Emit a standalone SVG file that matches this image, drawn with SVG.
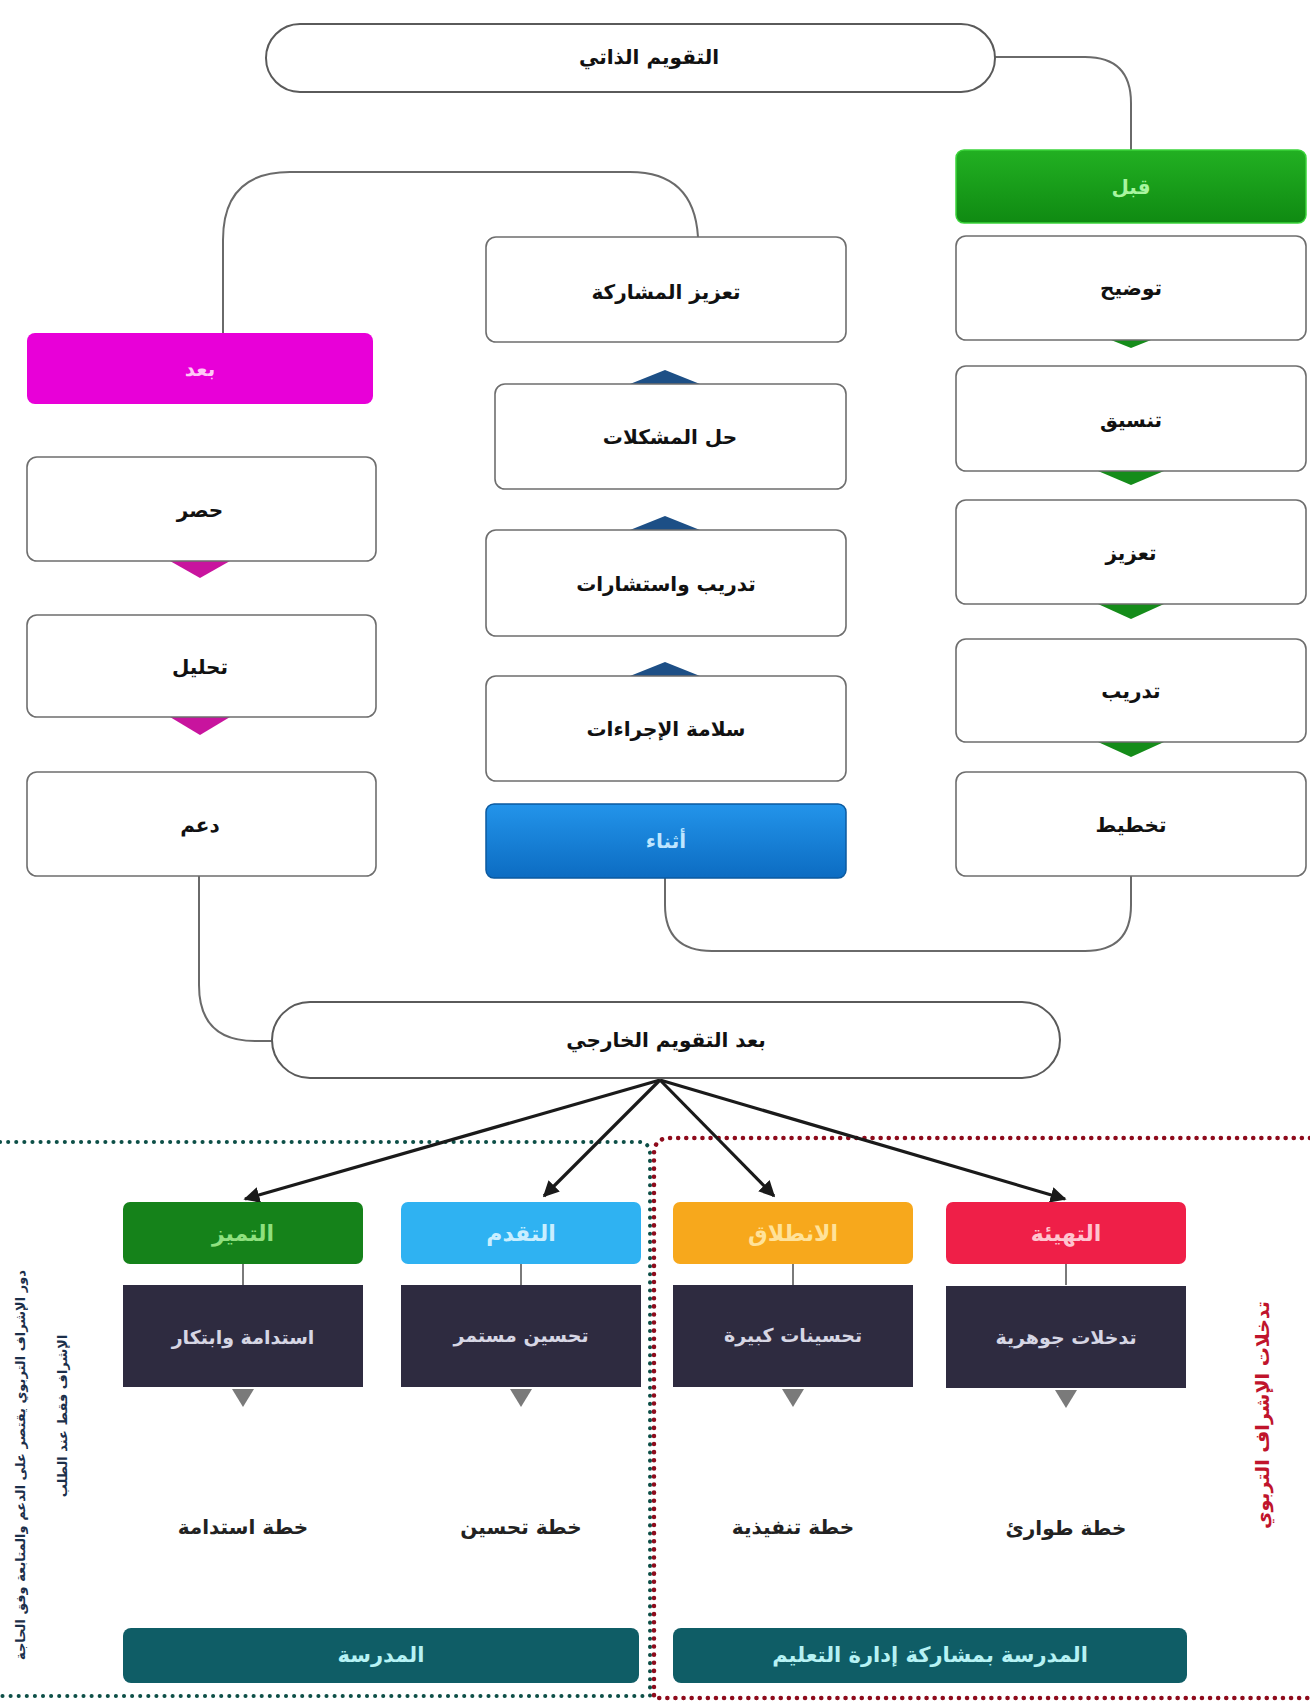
<svg xmlns="http://www.w3.org/2000/svg" width="1310" height="1704" viewBox="0 0 1310 1704">
<defs>
<style>
text{font-family:"DejaVu Sans","Noto Sans",sans-serif;font-weight:bold;text-anchor:middle;dominant-baseline:central}
.box{fill:#fff;stroke:#6e6e6e;stroke-width:1.6}
.pill{fill:#fff;stroke:#5a5a5a;stroke-width:2}
.bt{font-size:20px;fill:#111}
.conn{fill:none;stroke:#6a6a6a;stroke-width:2}
.arr{fill:none;stroke:#1a1a1a;stroke-width:3.2}
.dark{fill:#2e2b40}
.dt{font-size:19px;fill:#d6d6e4}
.ht{font-size:22px}
.plan{font-size:20px;fill:#222}
.bar{fill:#0f5d66}
.bartx{font-size:21px;fill:#b6f2f4}
.gl{stroke:#7a7a7a;stroke-width:2}
.gt{fill:#7a7a7a}
</style>
<linearGradient id="gGreen" x1="0" y1="0" x2="0" y2="1"><stop offset="0" stop-color="#22b022"/><stop offset="1" stop-color="#0f8a12"/></linearGradient>
<linearGradient id="gBlue" x1="0" y1="0" x2="0" y2="1"><stop offset="0" stop-color="#2394ea"/><stop offset="1" stop-color="#0c6cc2"/></linearGradient>
<linearGradient id="gDark" x1="0" y1="0" x2="1" y2="0"><stop offset="0" stop-color="#2a2738"/><stop offset="0.5" stop-color="#35324a"/><stop offset="1" stop-color="#2a2738"/></linearGradient>
<marker id="ah" viewBox="0 0 10 10" refX="9" refY="5" markerWidth="5" markerHeight="5" orient="auto" markerUnits="strokeWidth"><path d="M0,0 L10,5 L0,10 z" fill="#1a1a1a"/></marker>
</defs>
<rect width="1310" height="1704" fill="#fff"/>

<!-- dotted frames -->
<g id="frames" fill="none" stroke-linecap="round">
<path d="M0 1142 H638 Q650 1142 650 1154 V1696 H0" stroke="#0d4f47" stroke-width="4" stroke-dasharray="0.1 8"/>
<path d="M1310 1138 H670 Q654 1138 654 1154 V1698 H1310" stroke="#8e0b1c" stroke-width="4.5" stroke-dasharray="0.1 8"/>
</g>

<g id="connectors">
<path class="conn" d="M995 57 H1085 Q1131 57 1131 103 V150"/>
<path class="conn" d="M698 237 Q694 172 630 172 H290 Q223 172 223 240 V333"/>
<path class="conn" d="M1131 876 V905 Q1131 951 1085 951 H712 Q665 951 665 905 V878"/>
<path class="conn" d="M199 876 V985 Q199 1041 255 1041 H274"/>
<path class="arr" marker-end="url(#ah)" d="M660 1080 L245 1199"/>
<path class="arr" marker-end="url(#ah)" d="M660 1080 L544 1196"/>
<path class="arr" marker-end="url(#ah)" d="M660 1080 L774 1196"/>
<path class="arr" marker-end="url(#ah)" d="M660 1080 L1065 1199"/>
<g class="gl">
<line x1="243" y1="1264" x2="243" y2="1285"/>
<line x1="521" y1="1264" x2="521" y2="1285"/>
<line x1="793" y1="1264" x2="793" y2="1285"/>
<line x1="1066" y1="1264" x2="1066" y2="1285"/>
</g>
<g class="gt">
<polygon points="232,1389 254,1389 243,1407"/>
<polygon points="510,1389 532,1389 521,1407"/>
<polygon points="782,1389 804,1389 793,1407"/>
<polygon points="1055,1390 1077,1390 1066,1408"/>
</g>
</g>

<g id="self-eval"><rect class="pill" x="266" y="24" width="729" height="68" rx="34"/><text class="bt" x="649" y="57" font-size="22">التقويم الذاتي</text></g>

<!-- right column -->
<g id="before-head"><rect x="956" y="150" width="350" height="73" rx="8" fill="url(#gGreen)" stroke="#3bd43b" stroke-width="1.5"/><text x="1131" y="187" font-size="20" fill="#a8f5a0">قبل</text></g>
<g id="tri-green" fill="#158c1a">
<polygon points="1111,340 1151,340 1131,348"/>
<polygon points="1098,471 1164,471 1131,485"/>
<polygon points="1098,604 1164,604 1131,619"/>
<polygon points="1098,742 1164,742 1131,757"/>
</g>
<g id="b-clarify"><rect class="box" x="956" y="236" width="350" height="104" rx="10"/><text class="bt" x="1131" y="288">توضيح</text></g>
<g id="b-coord"><rect class="box" x="956" y="366" width="350" height="105" rx="10"/><text class="bt" x="1131" y="420">تنسيق</text></g>
<g id="b-enhance"><rect class="box" x="956" y="500" width="350" height="104" rx="10"/><text class="bt" x="1131" y="553">تعزيز</text></g>
<g id="b-train"><rect class="box" x="956" y="639" width="350" height="103" rx="10"/><text class="bt" x="1131" y="691">تدريب</text></g>
<g id="b-plan"><rect class="box" x="956" y="772" width="350" height="104" rx="10"/><text class="bt" x="1131" y="825">تخطيط</text></g>

<!-- middle column -->
<g id="tri-blue" fill="#1d4f86">
<polygon points="630,384 700,384 665,370"/>
<polygon points="630,530 700,530 665,516"/>
<polygon points="630,676 700,676 665,662"/>
</g>
<g id="m-partner"><rect class="box" x="486" y="237" width="360" height="105" rx="10"/><text class="bt" x="666" y="292">تعزيز المشاركة</text></g>
<g id="m-solve"><rect class="box" x="495" y="384" width="351" height="105" rx="10"/><text class="bt" x="670" y="437">حل المشكلات</text></g>
<g id="m-consult"><rect class="box" x="486" y="530" width="360" height="106" rx="10"/><text class="bt" x="666" y="584">تدريب واستشارات</text></g>
<g id="m-safety"><rect class="box" x="486" y="676" width="360" height="105" rx="10"/><text class="bt" x="666" y="729">سلامة الإجراءات</text></g>
<g id="during-head"><rect x="486" y="804" width="360" height="74" rx="8" fill="url(#gBlue)" stroke="#0b5aa0" stroke-width="1.5"/><text x="666" y="841" font-size="20" fill="#bfe6ff">أثناء</text></g>

<!-- left column -->
<g id="after-head"><rect x="27" y="333" width="346" height="71" rx="8" fill="#e800d8"/><text x="200" y="369" font-size="20" fill="#ffc8f6">بعد</text></g>
<g id="tri-mag" fill="#c8149e">
<polygon points="170,561 230,561 200,578"/>
<polygon points="170,717 230,717 200,735"/>
</g>
<g id="l-count"><rect class="box" x="27" y="457" width="349" height="104" rx="10"/><text class="bt" x="200" y="510">حصر</text></g>
<g id="l-analyze"><rect class="box" x="27" y="615" width="349" height="102" rx="10"/><text class="bt" x="200" y="667">تحليل</text></g>
<g id="l-support"><rect class="box" x="27" y="772" width="349" height="104" rx="10"/><text class="bt" x="200" y="825">دعم</text></g>

<g id="ext-eval"><rect class="pill" x="272" y="1002" width="788" height="76" rx="38"/><text class="bt" x="666" y="1040" font-size="21">بعد التقويم الخارجي</text></g>

<!-- bottom columns -->
<g id="c-excel"><rect x="123" y="1202" width="240" height="62" rx="7" fill="#15821a"/><text class="ht" x="243" y="1233" fill="#8fe07f">التميز</text></g>
<g id="c-progress"><rect x="401" y="1202" width="240" height="62" rx="7" fill="#2fb2f2"/><text class="ht" x="521" y="1233" fill="#c9eeff">التقدم</text></g>
<g id="c-launch"><rect x="673" y="1202" width="240" height="62" rx="7" fill="#f7a81c"/><text class="ht" x="793" y="1233" fill="#ffe29a">الانطلاق</text></g>
<g id="c-prep"><rect x="946" y="1202" width="240" height="62" rx="7" fill="#ef1f48"/><text class="ht" x="1066" y="1233" fill="#ffc4cf">التهيئة</text></g>

<g id="d-excel"><rect class="dark" x="123" y="1285" width="240" height="102" fill="url(#gDark)"/><text class="dt" x="243" y="1337">استدامة وابتكار</text></g>
<g id="d-progress"><rect class="dark" x="401" y="1285" width="240" height="102" fill="url(#gDark)"/><text class="dt" x="521" y="1335">تحسين مستمر</text></g>
<g id="d-launch"><rect class="dark" x="673" y="1285" width="240" height="102" fill="url(#gDark)"/><text class="dt" x="793" y="1335">تحسينات كبيرة</text></g>
<g id="d-prep"><rect class="dark" x="946" y="1286" width="240" height="102" fill="url(#gDark)"/><text class="dt" x="1066" y="1337">تدخلات جوهرية</text></g>

<g id="p-excel"><text class="plan" x="243" y="1527">خطة استدامة</text></g>
<g id="p-progress"><text class="plan" x="521" y="1527">خطة تحسين</text></g>
<g id="p-launch"><text class="plan" x="793" y="1527">خطة تنفيذية</text></g>
<g id="p-prep"><text class="plan" x="1066" y="1528">خطة طوارئ</text></g>

<g id="bar-school"><rect class="bar" x="123" y="1628" width="516" height="55" rx="8"/><text class="bartx" x="381" y="1655">المدرسة</text></g>
<g id="bar-joint"><rect class="bar" x="673" y="1628" width="514" height="55" rx="8"/><text class="bartx" x="930" y="1655">المدرسة بمشاركة إدارة التعليم</text></g>

<g id="side-right"><text x="1262" y="1415" font-size="19" fill="#c0142c" transform="rotate(-90 1262 1415)">تدخلات الإشراف التربوي</text></g>
<g id="side-left" fill="#1c2f4a" font-size="13">
<text x="20" y="1465" transform="rotate(-90 20 1465)">دور الإشراف التربوي يقتصر على الدعم والمتابعة وفق الحاجة</text>
<text x="62" y="1416" transform="rotate(-90 62 1416)">الإشراف فقط عند الطلب</text>
</g>
</svg>
